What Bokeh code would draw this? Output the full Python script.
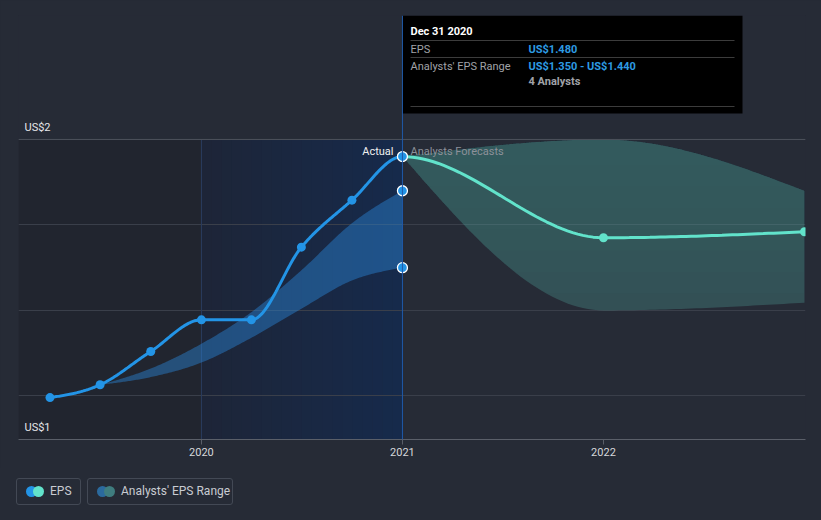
import numpy as np
import pandas as pd
from bokeh.plotting import figure
from bokeh.layouts import column
from bokeh.models import Range1d, FixedTicker, Span, Div
from bokeh.core.properties import value
from bokeh.embed import file_html
from bokeh.resources import INLINE

# ---------------- data ----------------
past_dates = ["2019-03-31", "2019-06-30", "2019-09-30", "2019-12-31",
              "2020-03-31", "2020-06-30", "2020-09-30", "2020-12-31"]
past_eps = [1.198, 1.213, 1.252, 1.289, 1.289, 1.374, 1.429, 1.480]

range_dates = ["2019-06-30", "2019-09-30", "2019-12-31", "2020-03-31",
               "2020-06-30", "2020-09-30", "2020-12-31"]
range_low = [1.213, 1.222, 1.239, 1.268, 1.302, 1.335, 1.350]
range_high = [1.213, 1.232, 1.261, 1.298, 1.347, 1.402, 1.440]

fc_dates = ["2020-12-31", "2021-12-31", "2022-12-31"]
fc_eps = [1.480, 1.385, 1.392]
fc_low = [1.480, 1.300, 1.309]
fc_high = [1.480, 1.500, 1.440]

y_ticks = [1.2, 1.3, 1.4, 1.5]
x_ticks = [2020, 2021, 2022]
y_label_top = "US$2"
y_label_bottom = "US$1"

tip_title = "Dec 31 2020"
tip_rows = [("EPS", "US$1.480"), ("Analysts' EPS Range", "US$1.350 - US$1.440")]
tip_extra = "4 Analysts"

legend_items = [("EPS", "#2394e6", "#62e3cb"),
                ("Analysts' EPS Range", "#2b6a9e", "#3f7d7f")]

# ---------------- helpers ----------------
FONT = "Roboto"
BG = "#262b36"
BLUE = "#2394e6"
MINT = "#62e3cb"


def dec_year(s):
    ts = pd.Timestamp(s)
    days = 366 if ts.is_leap_year else 365
    return ts.year + ts.dayofyear / days


def monotone(xs, ys, n=40):
    xs = np.asarray(xs, float)
    ys = np.asarray(ys, float)
    h = np.diff(xs)
    d = np.diff(ys) / h
    m = np.zeros(len(xs))
    for i in range(1, len(xs) - 1):
        s0, s1 = d[i - 1], d[i]
        p = (s0 * h[i] + s1 * h[i - 1]) / (h[i - 1] + h[i])
        m[i] = (np.sign(s0) + np.sign(s1)) * min(abs(s0), abs(s1), 0.5 * abs(p))
    if len(xs) > 2:
        m[0] = (3 * d[0] - m[1]) / 2
        m[-1] = (3 * d[-1] - m[-2]) / 2
    else:
        m[0] = m[-1] = d[0]
    ox, oy = [], []
    for i in range(len(xs) - 1):
        t = np.linspace(0, 1, n)
        h00 = 2 * t**3 - 3 * t**2 + 1
        h10 = t**3 - 2 * t**2 + t
        h01 = -2 * t**3 + 3 * t**2
        h11 = t**3 - t**2
        x = xs[i] + t * h[i]
        y = h00 * ys[i] + h10 * h[i] * m[i] + h01 * ys[i + 1] + h11 * h[i] * m[i + 1]
        if i > 0:
            x, y = x[1:], y[1:]
        ox.extend(x)
        oy.extend(y)
    return np.array(ox), np.array(oy)


px_ = [dec_year(d) for d in past_dates]
rx_ = [dec_year(d) for d in range_dates]
fx_ = [dec_year(d) for d in fc_dates]

# frame geometry (page pixels) -> data helpers for decorations
FL, FR, FT, FB = 18, 805, 15, 439
X0, X1 = 2019.09, 2023.005
Y0, Y1 = 1.149, 1.645


def dx(px):
    return X0 + (px - FL) / (FR - FL) * (X1 - X0)


def dy(py):
    return Y1 - (py - FT) / (FB - FT) * (Y1 - Y0)


W, H = 821, 468
p = figure(width=W, height=H, x_range=Range1d(X0, X1), y_range=Range1d(Y0, Y1),
           output_backend="svg", toolbar_location=None, y_axis_location=None,
           min_border_left=FL, min_border_right=W - FR, min_border_top=FT,
           min_border_bottom=H - FB)
p.background_fill_color = BG
p.border_fill_color = BG
p.outline_line_color = None
p.xgrid.visible = False
p.ygrid.ticker = FixedTicker(ticks=y_ticks)
p.ygrid.grid_line_color = "#3a3f4a"
p.ygrid.grid_line_width = 1

p.xaxis.ticker = FixedTicker(ticks=x_ticks)
p.xaxis.axis_line_color = "#5a5f69"
p.xaxis.major_tick_line_color = "#5a5f69"
p.xaxis.major_tick_out = 5
p.xaxis.major_tick_in = 0
p.xaxis.minor_tick_line_color = None
p.xaxis.major_label_text_color = "#d5d7db"
p.xaxis.major_label_text_font = FONT
p.xaxis.major_label_text_font_size = "11px"
p.xaxis.major_label_standoff = 3

# shaded past region
p.quad(left=X0, right=x_ticks[0], bottom=Y0, top=y_ticks[-1], fill_color="#21252f",
       line_color=None, level="image")
c0 = np.array([0x1d, 0x25, 0x38])
c1 = np.array([0x16, 0x2a, 0x4b])
nstrip = 20
edges = np.linspace(x_ticks[0], x_ticks[1], nstrip + 1)
for i in range(nstrip):
    c = c0 + (c1 - c0) * (i / (nstrip - 1))
    col = "#%02x%02x%02x" % tuple(int(round(v)) for v in c)
    p.quad(left=edges[i], right=edges[i + 1] + 0.002, bottom=Y0, top=y_ticks[-1],
           fill_color=col, line_color=None, level="image")

p.add_layout(Span(location=y_ticks[-1], dimension="width", line_color="#4c515b", line_width=1))
p.segment(x0=[x_ticks[0]], y0=[Y0], x1=[x_ticks[0]], y1=[y_ticks[-1]],
          line_color="#2a3d5e", line_width=1)

# forecast band (vertical gradient via stacked translucent layers)
bx, bhi = monotone(fx_, fc_high)
_, blo = monotone(fx_, fc_low)
p.varea(x=bx, y1=blo, y2=bhi, fill_color="#5bbfb5", fill_alpha=0.25)
for thr in np.linspace(1.32, 1.47, 7):
    lo = np.minimum(np.maximum(blo, thr), bhi)
    p.varea(x=bx, y1=lo, y2=bhi, fill_color="#5bbfb5", fill_alpha=0.025)

# past band
rx, rhi = monotone(rx_, range_high)
_, rlo = monotone(rx_, range_low)
p.varea(x=rx, y1=rlo, y2=rhi, fill_color="#2a85d8", fill_alpha=0.45)

p.add_layout(Span(location=x_ticks[1], dimension="height", line_color="#1f5aa8", line_width=1))

# EPS line: one smooth curve through actual + forecast, split at the last actual
all_x = px_ + fx_[1:]
all_y = past_eps + fc_eps[1:]
cx, cy = monotone(all_x, all_y)
split = px_[-1]
mp = cx <= split + 1e-9
mf = cx >= split - 1e-9
p.line(cx[mp], cy[mp], line_color=BLUE, line_width=3)
p.line(cx[mf], cy[mf], line_color=MINT, line_width=3)

p.scatter(px_[:-1], past_eps[:-1], size=9, fill_color=BLUE, line_color=None)
p.scatter(fx_[1:], fc_eps[1:], size=9, fill_color=MINT, line_color=None)
p.scatter([px_[-1]] * 3, [past_eps[-1], range_high[-1], range_low[-1]], size=10,
          fill_color=BLUE, line_color="white", line_width=1.3)

# labels
p.text(x=[dx(393)], y=[dy(151)], text=["Actual"], text_color="#f0f0f0",
       text_font=value(FONT), text_font_size="11px", text_align="right",
       text_baseline="middle")
p.text(x=[dx(410)], y=[dy(151)], text=["Analysts Forecasts"], text_color="#8d919a",
       text_font=value(FONT), text_font_size="11px", text_align="left",
       text_baseline="middle")
p.text(x=[dx(24), dx(24)], y=[dy(127), dy(427)], text=[y_label_top, y_label_bottom],
       text_color="#e6e7ea", text_font=value(FONT), text_font_size="11px",
       text_baseline="middle")

# tooltip
p.quad(left=x_ticks[1], right=dx(742), bottom=dy(113), top=Y1, fill_color="#000000",
       line_color=None)
p.segment(x0=[dx(410)] * 3, x1=[dx(734)] * 3, y0=[dy(40), dy(57), dy(106)],
          y1=[dy(40), dy(57), dy(106)], line_color="#3c3c3c", line_width=1)
p.text(x=[dx(410)], y=[dy(31)], text=[tip_title], text_color="white",
       text_font=value(FONT), text_font_size="11px", text_font_style="bold",
       text_baseline="middle")
p.text(x=[dx(410), dx(410)], y=[dy(48.5), dy(65.5)], text=[r[0] for r in tip_rows],
       text_color="#a0a3a8", text_font=value(FONT), text_font_size="11px",
       text_baseline="middle")
p.text(x=[dx(528), dx(528)], y=[dy(48.5), dy(65.5)], text=[r[1] for r in tip_rows],
       text_color="#2d9be3", text_font=value(FONT), text_font_size="11px",
       text_font_style="bold", text_baseline="middle")
p.text(x=[dx(528)], y=[dy(81)], text=[tip_extra], text_color="#a0a3a8",
       text_font=value(FONT), text_font_size="11px", text_font_style="bold",
       text_baseline="middle")

# ---------------- legend (HTML) ----------------
boxes = [(16, 65), (87, 146)]
parts = []
for (left, width), (label, ca, cb) in zip(boxes, legend_items):
    parts.append(
        '<div style="position:absolute;left:%dpx;top:10px;width:%dpx;height:25px;'
        'border:1px solid #434955;border-radius:3px;box-sizing:content-box;"></div>'
        % (left, width - 2))
    parts.append(
        '<div style="position:absolute;left:%.1fpx;top:17.5px;width:11px;height:11px;'
        'border-radius:50%%;background:%s;"></div>' % (left + 9.5, ca))
    parts.append(
        '<div style="position:absolute;left:%.1fpx;top:17.5px;width:11px;height:11px;'
        'border-radius:50%%;background:%s;"></div>' % (left + 16.5, cb))
    parts.append(
        '<div style="position:absolute;left:%dpx;top:15px;height:17px;line-height:17px;'
        'font-family:Roboto;font-size:12px;color:#c9ccd2;white-space:nowrap;">%s</div>'
        % (left + 34, label))
legend_html = ('<div style="position:relative;width:821px;height:52px;background:%s;">'
               % BG) + "".join(parts) + "</div>"
lg = Div(text=legend_html, width=821, height=52, margin=(0, 0, 0, 0))

layout = column(p, lg, spacing=0)
html = file_html(layout, INLINE)
html = html.replace("<head>", "<head><style>html,body{background:%s;}</style>" % BG, 1)
open("out.html", "w").write(html)
